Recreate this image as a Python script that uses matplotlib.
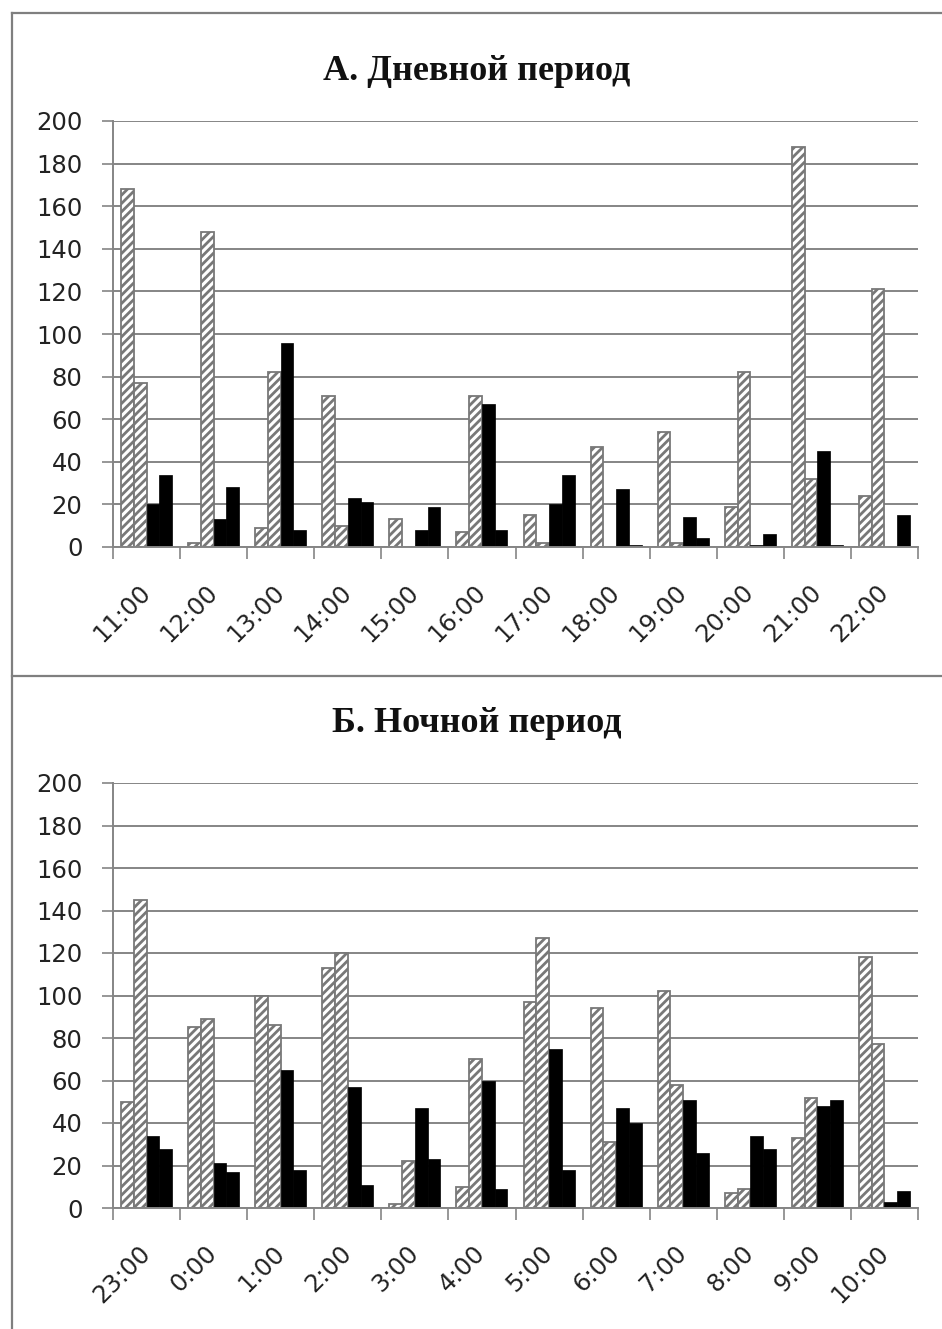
import matplotlib
matplotlib.use("Agg")
import matplotlib.pyplot as plt
from matplotlib.lines import Line2D
import numpy as np

# ---------------- data ----------------
day_hours = ["11:00", "12:00", "13:00", "14:00", "15:00", "16:00",
             "17:00", "18:00", "19:00", "20:00", "21:00", "22:00"]
day_hatch1 = [168, 2, 9, 71, 13, 7, 15, 47, 54, 19, 188, 24]
day_hatch2 = [77, 148, 82, 10, 0, 71, 2, 0, 2, 82, 32, 121]
day_black1 = [20, 13, 96, 23, 8, 67, 20, 27, 14, 1, 45, 0]
day_black2 = [34, 28, 8, 21, 19, 8, 34, 1, 4, 6, 1, 15]

night_hours = ["23:00", "0:00", "1:00", "2:00", "3:00", "4:00",
               "5:00", "6:00", "7:00", "8:00", "9:00", "10:00"]
night_hatch1 = [50, 85, 100, 113, 2, 10, 97, 94, 102, 7, 33, 118]
night_hatch2 = [145, 89, 86, 120, 22, 70, 127, 31, 58, 9, 52, 77]
night_black1 = [34, 21, 65, 57, 47, 60, 75, 47, 51, 34, 48, 3]
night_black2 = [28, 17, 18, 11, 23, 9, 18, 40, 26, 28, 51, 8]

titles = ["А. Дневной период", "Б. Ночной период"]
yticks = [0, 20, 40, 60, 80, 100, 120, 140, 160, 180, 200]

# ---------------- style ----------------
plt.rcParams["hatch.linewidth"] = 2.0
GRID = "#858585"
EDGE = "#787878"

W, H = 942, 1329
fig = plt.figure(figsize=(W / 100, H / 100), dpi=100)
fig.patch.set_facecolor("white")


def fx(px):
    return px / W


def fy(py):
    return 1 - py / H


def panel(ax, hours, series, title, title_y):
    n = len(hours)
    x = np.arange(n)
    w = 0.19
    offs = [-1.5 * w, -0.5 * w, 0.5 * w, 1.5 * w]
    styles = [dict(color="white", edgecolor=EDGE, hatch="////", linewidth=1.3),
              dict(color="white", edgecolor=EDGE, hatch="////", linewidth=1.3),
              dict(color="black", edgecolor="black", linewidth=0.5),
              dict(color="black", edgecolor="black", linewidth=0.5)]
    for vals, off, st in zip(series, offs, styles):
        ax.bar(x + off, vals, width=w, zorder=3, **st)

    ax.set_xlim(-0.5, n - 0.5)
    ax.set_ylim(0, 200)
    ax.set_yticks(yticks)
    ax.set_yticklabels([str(v) for v in yticks])
    ax.yaxis.grid(True, color=GRID, linewidth=1.4, zorder=0)
    ax.set_axisbelow(True)

    ax.set_xticks(np.arange(-0.5, n, 1.0))
    ax.set_xticklabels([])
    ax.set_xticks(x, minor=True)
    ax.set_xticklabels(hours, minor=True)
    ax.tick_params(axis="x", which="major", direction="out", length=8.5,
                   width=1.2, color=GRID)
    ax.tick_params(axis="x", which="minor", length=0, pad=30,
                   labelsize=17.5, labelcolor="#222222")
    for lab in ax.get_xticklabels(minor=True):
        lab.set_rotation(45)
        lab.set_ha("right")
        lab.set_va("center")
        lab.set_rotation_mode("anchor")
        lab.set_fontfamily("DejaVu Sans")
    ax.tick_params(axis="y", direction="out", length=8, width=1.2,
                   color=GRID, pad=14, labelsize=17.5, labelcolor="#222222")

    for s in ["top", "right"]:
        ax.spines[s].set_visible(False)
    for s in ["left", "bottom"]:
        ax.spines[s].set_color(GRID)
        ax.spines[s].set_linewidth(1.4)
        ax.spines[s].set_zorder(4)

    fig.text(fx(477), fy(title_y), title, ha="center", va="center",
             fontsize=26, fontweight="bold", family="Liberation Serif",
             color="#111111")


ax1 = fig.add_axes([fx(113), fy(547), fx(918) - fx(113), fy(121) - fy(547)])
panel(ax1, day_hours, [day_hatch1, day_hatch2, day_black1, day_black2],
      titles[0], 72)

ax2 = fig.add_axes([fx(113), fy(1208), fx(918) - fx(113), fy(783) - fy(1208)])
panel(ax2, night_hours, [night_hatch1, night_hatch2, night_black1, night_black2],
      titles[1], 724)

# panel borders
for xs, ys in [([fx(12), fx(12)], [fy(13), 0]),
               ([fx(12), 1], [fy(13), fy(13)]),
               ([fx(12), 1], [fy(676), fy(676)])]:
    fig.add_artist(Line2D(xs, ys, color="#7f7f7f", linewidth=1.6,
                          transform=fig.transFigure))

fig.savefig("out.png", dpi=100)
